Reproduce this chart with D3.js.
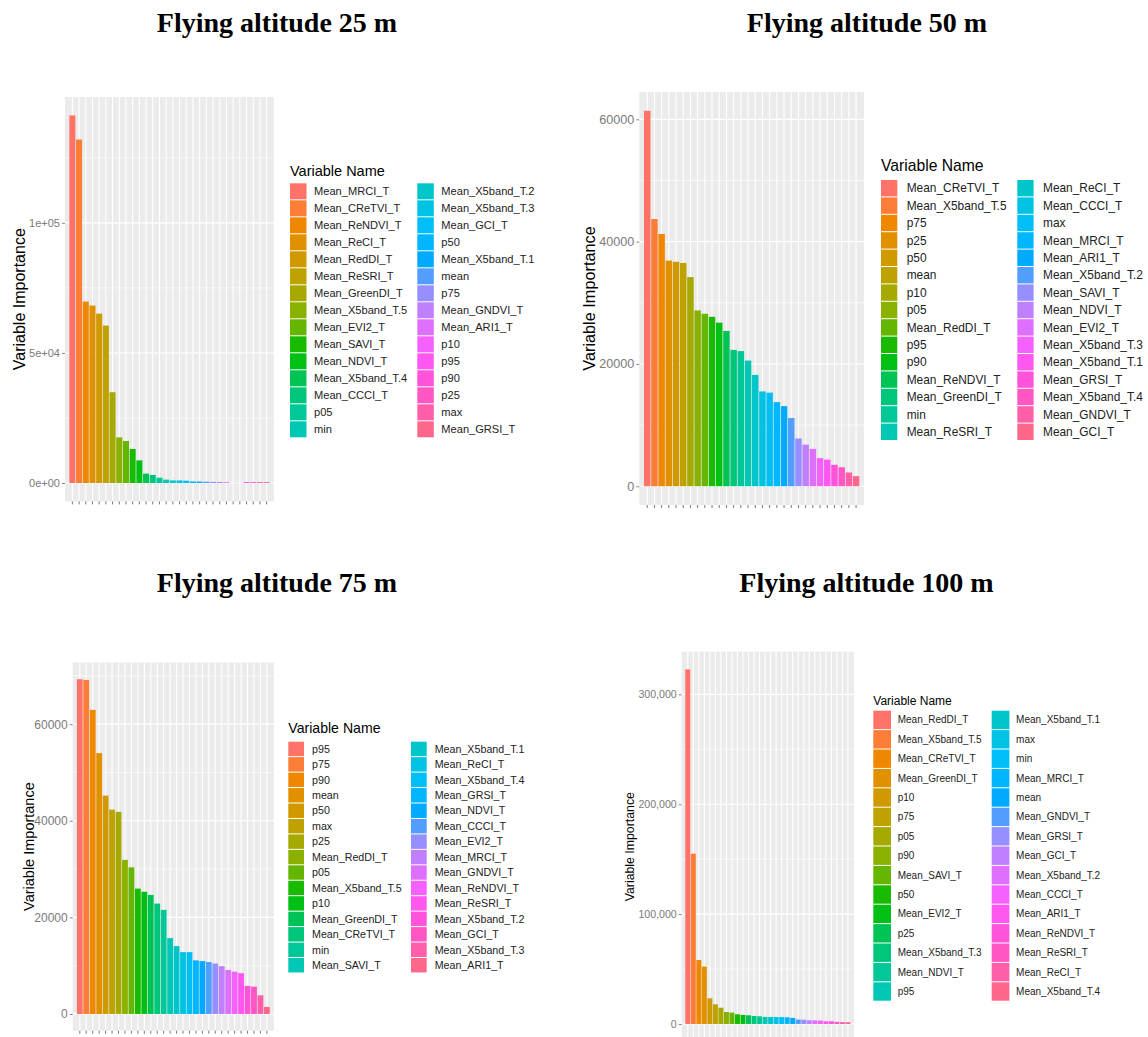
<!DOCTYPE html>
<html>
<head>
<meta charset="utf-8">
<script src="https://cdn.jsdelivr.net/npm/d3@7"></script>
<style>
  body { margin: 0; background: #fff; }
  svg { display: block; }
</style>
</head>
<body>
<div id="chart"></div>
<script>
// Variable importance per flying altitude (ranked, descending)

const names25 = ["Mean_MRCI_T","Mean_CReTVI_T","Mean_ReNDVI_T","Mean_ReCI_T","Mean_RedDI_T","Mean_ReSRI_T","Mean_GreenDI_T","Mean_X5band_T.5","Mean_EVI2_T","Mean_SAVI_T","Mean_NDVI_T","Mean_X5band_T.4","Mean_CCCI_T","p05","min","Mean_X5band_T.2","Mean_X5band_T.3","Mean_GCI_T","p50","Mean_X5band_T.1","mean","p75","Mean_GNDVI_T","Mean_ARI1_T","p10","p95","p90","p25","max","Mean_GRSI_T"];
const values25 = [141300,132000,69750,68200,65100,60500,34900,17550,16150,13100,8700,3600,3100,2050,1300,1000,1000,900,600,550,500,450,400,300,20,20,350,350,350,350];

const names50 = ["Mean_CReTVI_T","Mean_X5band_T.5","p75","p25","p50","mean","p10","p05","Mean_RedDI_T","p95","p90","Mean_ReNDVI_T","Mean_GreenDI_T","min","Mean_ReSRI_T","Mean_ReCI_T","Mean_CCCI_T","max","Mean_MRCI_T","Mean_ARI1_T","Mean_X5band_T.2","Mean_SAVI_T","Mean_NDVI_T","Mean_EVI2_T","Mean_X5band_T.3","Mean_X5band_T.1","Mean_GRSI_T","Mean_X5band_T.4","Mean_GNDVI_T","Mean_GCI_T"];
const values50 = [61400,43700,41250,36900,36700,36500,34200,28750,28200,27700,26750,25400,22300,22100,20550,18200,15500,15300,13750,13100,11150,7800,6800,6100,4600,4350,3500,3100,2250,1650];

const names75 = ["p95","p75","p90","mean","p50","max","p25","Mean_RedDI_T","p05","Mean_X5band_T.5","p10","Mean_GreenDI_T","Mean_CReTVI_T","min","Mean_SAVI_T","Mean_X5band_T.1","Mean_ReCI_T","Mean_X5band_T.4","Mean_GRSI_T","Mean_NDVI_T","Mean_CCCI_T","Mean_EVI2_T","Mean_MRCI_T","Mean_GNDVI_T","Mean_ReNDVI_T","Mean_ReSRI_T","Mean_X5band_T.2","Mean_GCI_T","Mean_X5band_T.3","Mean_ARI1_T"];
const values75 = [69300,69150,62950,54000,45200,42300,41850,31900,30350,25950,25300,24650,22850,21550,15700,14050,12800,12800,11100,10950,10750,10450,9900,9100,8750,8450,5800,5650,3850,1450];

const names100 = ["Mean_RedDI_T","Mean_X5band_T.5","Mean_CReTVI_T","Mean_GreenDI_T","p10","p75","p05","p90","Mean_SAVI_T","p50","Mean_EVI2_T","p25","Mean_X5band_T.3","Mean_NDVI_T","p95","Mean_X5band_T.1","max","min","Mean_MRCI_T","mean","Mean_GNDVI_T","Mean_GRSI_T","Mean_GCI_T","Mean_X5band_T.2","Mean_CCCI_T","Mean_ARI1_T","Mean_ReNDVI_T","Mean_ReSRI_T","Mean_ReCI_T","Mean_X5band_T.4"];
const values100 = [322700,155000,58200,52200,23350,17900,14800,10900,10300,8800,8200,7900,7300,7000,6400,6350,6300,6250,6100,5500,4000,3900,3400,3300,3100,2500,2400,1900,1700,1600];

const ticks25 = [0, 50000, 100000];
const tickLabels25 = ["0e+00", "5e+04", "1e+05"];
const minor25 = [25000, 75000, 125000];
const ticks50 = [0, 20000, 40000, 60000];
const tickLabels50 = ["0", "20000", "40000", "60000"];
const minor50 = [10000, 30000, 50000];
const ticks75 = [0, 20000, 40000, 60000];
const tickLabels75 = ["0", "20000", "40000", "60000"];
const minor75 = [10000, 30000, 50000, 70000];
const ticks100 = [0, 100000, 200000, 300000];
const tickLabels100 = ["0", "100,000", "200,000", "300,000"];
const minor100 = [50000, 150000, 250000];

// hue palette (polar LUV -> sRGB), chroma a bit above ggplot's default to match the vivid reference
function hueColor(h, C, L) {
  const hr = h * Math.PI / 180;
  const U = C * Math.cos(hr), V = C * Math.sin(hr);
  const XN = 95.047, YN = 100, ZN = 108.883;
  const Y = YN * Math.pow((L + 16) / 116, 3);
  const t = XN + 15 * YN + 3 * ZN;
  const u = U / (13 * L) + 4 * XN / t, v = V / (13 * L) + 9 * YN / t;
  const X = 9 * Y * u / (4 * v);
  const Z = -X / 3 - 5 * Y + 3 * Y / v;
  const x = X / 100, y = Y / 100, z = Z / 100;
  const lin = [
    3.240479 * x - 1.537150 * y - 0.498535 * z,
    -0.969256 * x + 1.875992 * y + 0.041556 * z,
    0.055648 * x - 0.204043 * y + 1.057311 * z
  ];
  const g = lin.map(c => {
    const s = c <= 0.0031308 ? 12.92 * c : 1.055 * Math.pow(Math.max(c, 0), 1 / 2.4) - 0.055;
    return Math.round(Math.max(0, Math.min(1, s)) * 255);
  });
  return d3.rgb(g[0], g[1], g[2]).formatHex();
}
const palette = d3.range(30).map(i => hueColor(15 + i * 12, 115, 66));

const svg = d3.select('#chart').append('svg')
  .attr('width', 1148)
  .attr('height', 1037);

svg.append('rect').attr('width', 1148).attr('height', 1037).attr('fill', '#fff');

const sans = 'Liberation Sans, Arial, sans-serif';

function drawPanel(cfg) {
  const g = svg.append('g');
  const maxV = d3.max(cfg.values);

  // Title
  svg.append('text')
    .attr('x', cfg.titleX)
    .attr('y', cfg.titleY)
    .attr('text-anchor', 'middle')
    .style('font-family', 'Liberation Serif, Times New Roman, serif')
    .style('font-weight', 'bold')
    .style('font-size', '28px')
    .style('fill', '#000')
    .text(cfg.title);

  // Scales
  const unit = (cfg.x1 - cfg.x0) / 31.2;
  const x = d3.scaleBand()
    .domain(cfg.names)
    .range([cfg.x0 + 0.6 * unit, cfg.x1 - 0.6 * unit])
    .paddingInner(0.1)
    .paddingOuter(0.05);
  const y = d3.scaleLinear()
    .domain([-0.05 * maxV, 1.05 * maxV])
    .range([cfg.y1, cfg.y0]);
  const color = d3.scaleOrdinal().domain(cfg.names).range(palette);

  // Panel background
  g.append('rect')
    .attr('x', cfg.x0).attr('y', cfg.y0)
    .attr('width', cfg.x1 - cfg.x0).attr('height', cfg.y1 - cfg.y0)
    .attr('fill', '#EBEBEB');

  // Grid
  g.selectAll('.minor').data(cfg.minor).enter().append('line')
    .attr('x1', cfg.x0).attr('x2', cfg.x1)
    .attr('y1', d => y(d)).attr('y2', d => y(d))
    .attr('stroke', '#fff').attr('stroke-width', 0.6);
  g.selectAll('.major').data(cfg.ticks).enter().append('line')
    .attr('x1', cfg.x0).attr('x2', cfg.x1)
    .attr('y1', d => y(d)).attr('y2', d => y(d))
    .attr('stroke', '#fff').attr('stroke-width', 1.1);
  g.selectAll('.vgrid').data(cfg.names).enter().append('line')
    .attr('x1', d => x(d) + x.bandwidth() / 2).attr('x2', d => x(d) + x.bandwidth() / 2)
    .attr('y1', cfg.y0).attr('y2', cfg.y1)
    .attr('stroke', '#fff').attr('stroke-width', 1.1);

  // Bars
  g.selectAll('.bar').data(cfg.names).enter().append('rect')
    .attr('x', d => x(d))
    .attr('y', (d, i) => y(cfg.values[i]))
    .attr('width', x.bandwidth())
    .attr('height', (d, i) => Math.max(0, y(0) - y(cfg.values[i])))
    .attr('fill', d => color(d));

  // Y axis
  const yAxis = g.append('g')
    .attr('transform', `translate(${cfg.x0},0)`)
    .call(d3.axisLeft(y).tickValues(cfg.ticks).tickSize(3).tickPadding(2)
      .tickFormat((d, i) => cfg.tickLabels[i]));
  yAxis.select('.domain').remove();
  yAxis.selectAll('.tick line').attr('stroke', '#888');
  yAxis.selectAll('.tick text')
    .style('font-family', sans)
    .style('font-size', cfg.tickFont + 'px')
    .attr('fill', '#7a7a7a');

  // X axis (ticks only)
  const xAxis = g.append('g')
    .attr('transform', `translate(0,${cfg.y1})`)
    .call(d3.axisBottom(x).tickSize(3).tickFormat(''));
  xAxis.select('.domain').remove();
  xAxis.selectAll('.tick line').attr('stroke', '#777');

  // Axis title
  g.append('text')
    .attr('transform', `translate(${cfg.yTitleX},${(cfg.y0 + cfg.y1) / 2}) rotate(-90)`)
    .attr('text-anchor', 'middle')
    .attr('dy', '0.35em')
    .style('font-family', sans)
    .style('font-size', cfg.yTitleFont + 'px')
    .style('fill', '#000')
    .text('Variable Importance');

  // Legend
  const lg = cfg.legend;
  g.append('text')
    .attr('x', lg.x)
    .attr('y', lg.titleY)
    .style('font-family', sans)
    .style('font-size', lg.titleFont + 'px')
    .style('fill', '#000')
    .text('Variable Name');

  const items = g.selectAll('.key').data(cfg.names).enter().append('g')
    .attr('transform', (d, i) => {
      const col = Math.floor(i / 15), row = i % 15;
      return `translate(${col === 0 ? lg.x : lg.x2},${lg.y0 + row * lg.pitch})`;
    });
  items.append('rect')
    .attr('width', lg.keyW)
    .attr('height', lg.pitch - 1)
    .attr('fill', d => color(d));
  items.append('text')
    .attr('x', lg.labelOff)
    .attr('y', (lg.pitch - 1) / 2)
    .attr('dy', '0.35em')
    .style('font-family', sans)
    .style('font-size', lg.font + 'px')
    .style('fill', '#222')
    .text(d => d);
}

drawPanel({
  title: 'Flying altitude 25 m', titleX: 277, titleY: 32,
  names: names25, values: values25, ticks: ticks25, tickLabels: tickLabels25, minor: minor25,
  x0: 65, x1: 274, y0: 97, y1: 501.4,
  tickFont: 11, yTitleX: 19, yTitleFont: 16,
  legend: { x: 290, x2: 417.3, labelOff: 24, titleY: 176, titleFont: 14.5, y0: 183.3, pitch: 17, keyW: 16.5, font: 11.1 }
});

drawPanel({
  title: 'Flying altitude 50 m', titleX: 867, titleY: 32,
  names: names50, values: values50, ticks: ticks50, tickLabels: tickLabels50, minor: minor50,
  x0: 639.3, x1: 864, y0: 92, y1: 505,
  tickFont: 12.6, yTitleX: 589.5, yTitleFont: 16.3,
  legend: { x: 881, x2: 1017.3, labelOff: 25.7, titleY: 171, titleFont: 15.7, y0: 180, pitch: 17.4, keyW: 16.3, font: 11.9 }
});

drawPanel({
  title: 'Flying altitude 75 m', titleX: 277, titleY: 592,
  names: names75, values: values75, ticks: ticks75, tickLabels: tickLabels75, minor: minor75,
  x0: 72.7, x1: 274, y0: 662.5, y1: 1030.7,
  tickFont: 12, yTitleX: 29, yTitleFont: 14.5,
  legend: { x: 288.3, x2: 411, labelOff: 23.7, titleY: 733, titleFont: 14.1, y0: 741.7, pitch: 15.45, keyW: 15.7, font: 10.7 }
});

drawPanel({
  title: 'Flying altitude 100 m', titleX: 866.5, titleY: 592,
  names: names100, values: values100, ticks: ticks100, tickLabels: tickLabels100, minor: minor100,
  x0: 681.7, x1: 854, y0: 651.7, y1: 1041.7,
  tickFont: 10.6, yTitleX: 629.3, yTitleFont: 12.3,
  legend: { x: 873.3, x2: 991.7, labelOff: 24.4, titleY: 705, titleFont: 12, y0: 710.7, pitch: 19.4, keyW: 17.7, font: 10 }
});
</script>
</body>
</html>
